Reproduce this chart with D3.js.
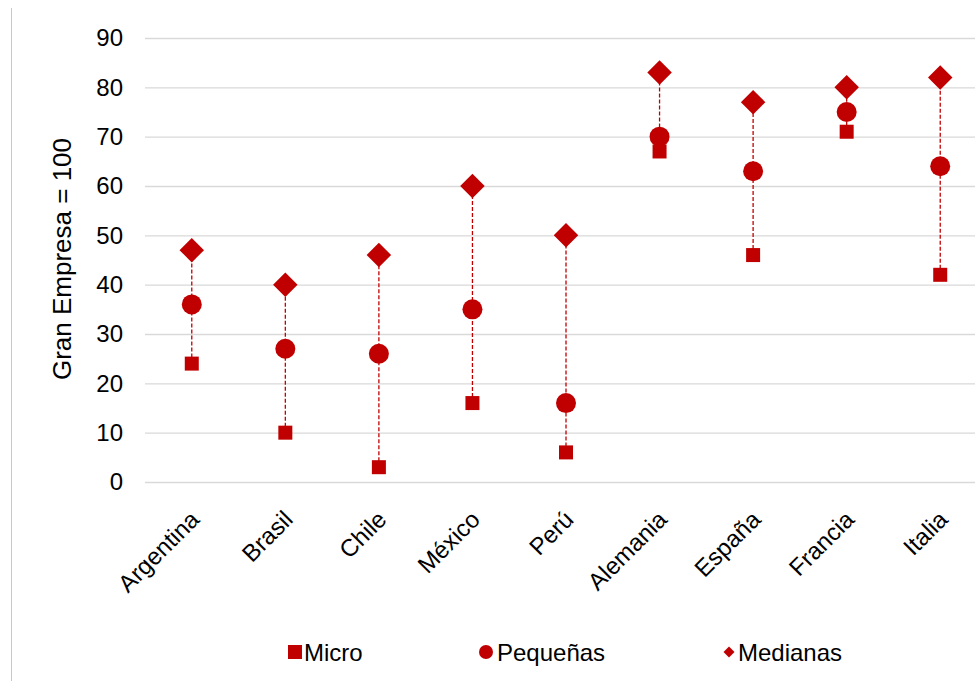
<!DOCTYPE html>
<html lang="es">
<head>
<meta charset="UTF-8">
<title>Brecha de productividad</title>
<style>
  html, body { margin: 0; padding: 0; background: #fff; }
  svg { display: block; font-family: Arial, "Liberation Sans", sans-serif; }
  .grid line { stroke: #d9d9d9; stroke-width: 1.3px; }
  .tick text { fill: #000; }
</style>
</head>
<body>
<svg width="975" height="681"></svg>
<script src="https://d3js.org/d3.v7.min.js"></script>
<script>
// datos (Gran Empresa = 100)
const paises = ["Argentina", "Brasil", "Chile", "México", "Perú", "Alemania", "España", "Francia", "Italia"];
const micro = [24, 10, 3, 16, 6, 67, 46, 71, 42];
const pequenas = [36, 27, 26, 35, 16, 70, 63, 75, 64];
const medianas = [47, 40, 46, 60, 50, 83, 77, 80, 82];
const yTicks = [0, 10, 20, 30, 40, 50, 60, 70, 80, 90];

const rojo = "#c00000";
const svg = d3.select("svg");

const x = d3.scaleBand().domain(paises).range([145, 987]);
const y = d3.scaleLinear().domain([0, 90]).range([482, 38]);

// borde izquierdo
svg.append("line")
    .attr("x1", 11.5).attr("x2", 11.5)
    .attr("y1", 8).attr("y2", 681)
    .attr("stroke", "#c8c8c8").attr("stroke-width", 1);

// grid + eje y
const gy = svg.append("g")
    .attr("class", "grid")
    .attr("transform", "translate(145,0)")
    .call(d3.axisLeft(y).tickValues(yTicks).tickSize(-830).tickPadding(22));
gy.select(".domain").remove();
gy.selectAll(".tick text").style("font-size", "24px");

svg.append("text")
    .attr("transform", "translate(71,259) rotate(-90)")
    .attr("text-anchor", "middle")
    .style("font-size", "26px")
    .text("Gran Empresa = 100");

// eje x (etiquetas inclinadas)
svg.append("g")
    .selectAll("text")
    .data(paises)
    .join("text")
    .attr("transform", d => `translate(${x(d) + x.bandwidth() / 2 + 9},521) rotate(-45)`)
    .attr("text-anchor", "end")
    .style("font-size", "24px")
    .text(d => d);

const cx = i => x(paises[i]) + x.bandwidth() / 2;

// lineas punteadas
svg.append("g")
    .selectAll("line")
    .data(paises)
    .join("line")
    .attr("x1", (d, i) => cx(i)).attr("x2", (d, i) => cx(i))
    .attr("y1", (d, i) => y(micro[i]))
    .attr("y2", (d, i) => y(medianas[i]))
    .attr("stroke", rojo)
    .attr("stroke-width", 1.3)
    .attr("stroke-dasharray", "4,2");

// marcadores
svg.append("g")
    .selectAll("rect")
    .data(micro)
    .join("rect")
    .attr("x", (d, i) => cx(i) - 7)
    .attr("y", d => y(d) - 7)
    .attr("width", 14).attr("height", 14)
    .attr("fill", rojo);

svg.append("g")
    .selectAll("circle")
    .data(pequenas)
    .join("circle")
    .attr("cx", (d, i) => cx(i))
    .attr("cy", d => y(d))
    .attr("r", 10)
    .attr("fill", rojo);

const diamante = d3.symbol().type(d3.symbolSquare).size(300);
svg.append("g")
    .selectAll("path")
    .data(medianas)
    .join("path")
    .attr("transform", (d, i) => `translate(${cx(i)},${y(d)}) rotate(45)`)
    .attr("d", diamante)
    .attr("fill", rojo);

// leyenda
const ly = 652;
const leg = svg.append("g").style("font-size", "24px");
leg.append("rect").attr("x", 288).attr("y", ly - 7).attr("width", 14).attr("height", 14).attr("fill", rojo);
leg.append("text").attr("x", 304).attr("y", ly + 9).text("Micro");
leg.append("circle").attr("cx", 486).attr("cy", ly).attr("r", 7).attr("fill", rojo);
leg.append("text").attr("x", 497).attr("y", ly + 9).text("Pequeñas");
leg.append("path").attr("transform", `translate(729,${ly}) rotate(45)`)
    .attr("d", d3.symbol().type(d3.symbolSquare).size(60)).attr("fill", rojo);
leg.append("text").attr("x", 738).attr("y", ly + 9).text("Medianas");
</script>
</body>
</html>
